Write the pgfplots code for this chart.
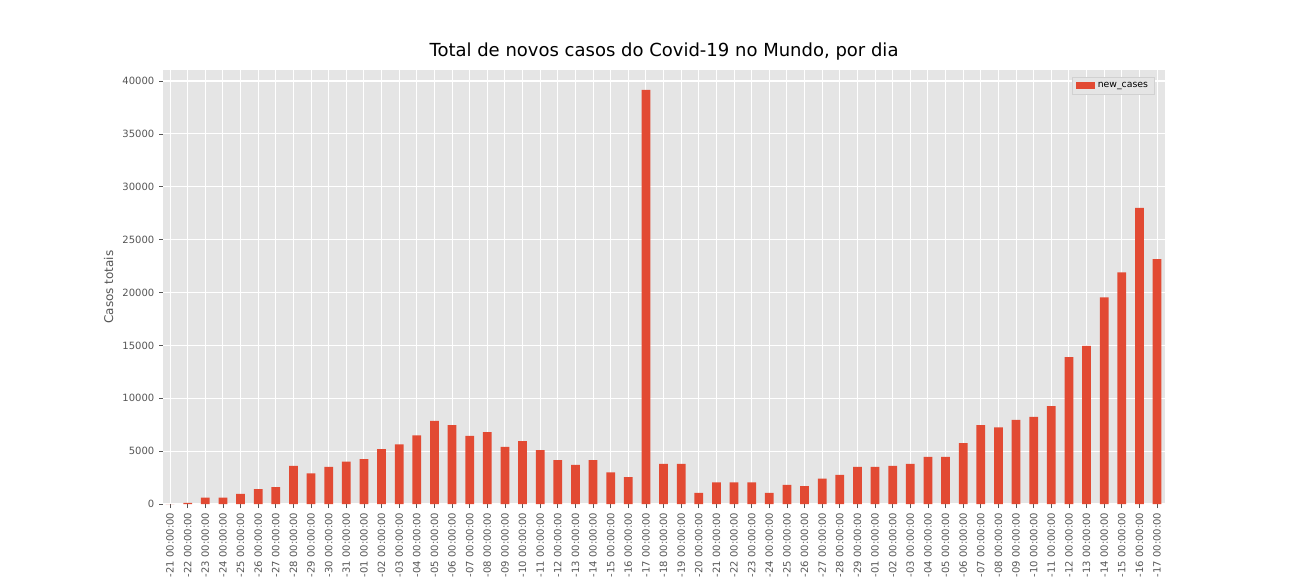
\documentclass[border=0pt]{standalone}
\usepackage{pgfplots}
\pgfplotsset{compat=1.18}
\usepackage{fontspec}
\setmainfont{DejaVu Sans}
\definecolor{barred}{HTML}{E24A33}
\definecolor{bg}{HTML}{E5E5E5}
\definecolor{tk}{HTML}{555555}
\begin{document}
\begin{tikzpicture}
\useasboundingbox (0pt,0pt) rectangle (972pt,432pt);
\begin{axis}[
  at={(122.25pt,54pt)}, anchor=south west,
  scale only axis, width=751.5pt, height=325.5pt,
  axis background/.style={fill=bg},
  axis line style={draw=none},
  xmin=-0.4, xmax=56.45, ymin=0, ymax=41040,
  ybar, bar width=0.5,
  grid=major, grid style={white, line width=0.8pt},
  tick style={tk, line width=0.5pt}, tick align=outside, major tick length=3pt,
  xtick pos=bottom, ytick pos=left,
  xtick={0,...,56},
  xticklabels={-21 00:00:00,-22 00:00:00,-23 00:00:00,-24 00:00:00,-25 00:00:00,-26 00:00:00,-27 00:00:00,-28 00:00:00,-29 00:00:00,-30 00:00:00,-31 00:00:00,-01 00:00:00,-02 00:00:00,-03 00:00:00,-04 00:00:00,-05 00:00:00,-06 00:00:00,-07 00:00:00,-08 00:00:00,-09 00:00:00,-10 00:00:00,-11 00:00:00,-12 00:00:00,-13 00:00:00,-14 00:00:00,-15 00:00:00,-16 00:00:00,-17 00:00:00,-18 00:00:00,-19 00:00:00,-20 00:00:00,-21 00:00:00,-22 00:00:00,-23 00:00:00,-24 00:00:00,-25 00:00:00,-26 00:00:00,-27 00:00:00,-28 00:00:00,-29 00:00:00,-01 00:00:00,-02 00:00:00,-03 00:00:00,-04 00:00:00,-05 00:00:00,-06 00:00:00,-07 00:00:00,-08 00:00:00,-09 00:00:00,-10 00:00:00,-11 00:00:00,-12 00:00:00,-13 00:00:00,-14 00:00:00,-15 00:00:00,-16 00:00:00,-17 00:00:00},
  xticklabel style={rotate=90, anchor=east, font=\fontsize{7.5}{8}\selectfont, text=tk},
  ytick={0,5000,...,40000},
  scaled y ticks=false,
  yticklabel style={font=\fontsize{7.5}{8}\selectfont, text=tk, /pgf/number format/.cd, 1000 sep={}, assume math mode=true},
  ylabel={Casos totais}, ylabel style={font=\fontsize{9}{10}\selectfont, text=tk},
  title={Total de novos casos do Covid-19 no Mundo, por dia},
  title style={font=\fontsize{13.5}{15}\selectfont, yshift=-2pt},
  legend style={at={(0.99,0.985)}, anchor=north east, fill=bg, draw=bg!80!gray, font=\fontsize{7}{8}\selectfont, legend cell align=left},
  legend image code/.code={\fill[barred] (0pt,-2.5pt) rectangle (14pt,2.5pt);},
]
\addplot[fill=barred, draw=none] coordinates {
(0,0)(1,100)(2,600)(3,600)(4,950)(5,1400)(6,1600)(7,3600)(8,2900)(9,3500)
(10,4000)(11,4250)(12,5200)(13,5650)(14,6500)(15,7850)(16,7450)(17,6450)(18,6800)(19,5400)
(20,5950)(21,5100)(22,4150)(23,3700)(24,4150)(25,3000)(26,2550)(27,39150)(28,3800)(29,3800)
(30,1050)(31,2050)(32,2050)(33,2050)(34,1050)(35,1800)(36,1700)(37,2400)(38,2750)(39,3500)
(40,3500)(41,3600)(42,3800)(43,4450)(44,4450)(45,5750)(46,7450)(47,7250)(48,7950)(49,8250)
(50,9250)(51,13900)(52,14950)(53,19550)(54,21900)(55,28000)(56,23150)};
\addlegendentry{new\_cases}
\end{axis}
\end{tikzpicture}
\end{document}
